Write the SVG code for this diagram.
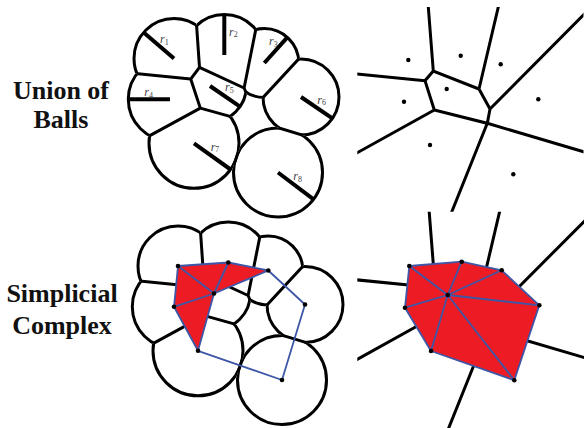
<svg xmlns="http://www.w3.org/2000/svg" xmlns:xlink="http://www.w3.org/1999/xlink" width="584" height="428" viewBox="0 0 584 428">
<style>
.ball{fill:none;stroke:#000;stroke-width:3}
.edge{fill:none;stroke:#000;stroke-width:3;stroke-linejoin:miter}
.rad{stroke:#000;stroke-width:4;stroke-linecap:butt}
.dot{fill:#000}
.tri{fill:#ED1C24;stroke:none}
.cx{fill:none;stroke:#3E56A6;stroke-width:1.8;stroke-linejoin:round}
</style>
<defs>
<clipPath id="cell1" clipPathUnits="userSpaceOnUse"><polygon points="178.7,-231.9 199.5,67.4 190.7,79 -107.9,49.7"/></clipPath>
<clipPath id="cell2" clipPathUnits="userSpaceOnUse"><polygon points="178.7,-231.9 302.9,-206.2 244.1,88 199.5,67.4"/></clipPath>
<clipPath id="cell3" clipPathUnits="userSpaceOnUse"><polygon points="244.1,88 302.9,-206.2 456.7,-111.6 252.8,108.5"/></clipPath>
<clipPath id="cell4" clipPathUnits="userSpaceOnUse"><polygon points="190.7,79 -107.9,49.7 -63.1,251.8 200.3,108.1"/></clipPath>
<clipPath id="cell5" clipPathUnits="userSpaceOnUse"><polygon points="199.5,67.4 190.7,79 200.3,108.1 248.9,121.6 251.5,119.6 252.8,108.5 244.1,88"/></clipPath>
<clipPath id="cell6" clipPathUnits="userSpaceOnUse"><polygon points="252.8,108.5 456.7,-111.6 538.5,207 251.5,119.6"/></clipPath>
<clipPath id="cell7" clipPathUnits="userSpaceOnUse"><polygon points="200.3,108.1 -63.1,251.8 150.4,405 248.9,121.6"/></clipPath>
<clipPath id="cell8" clipPathUnits="userSpaceOnUse"><polygon points="248.9,121.6 150.4,405 538.5,207 251.5,119.6"/></clipPath>
<clipPath id="union" clipPathUnits="userSpaceOnUse">
<circle cx="174" cy="58.5" r="40"/><circle cx="224.3" cy="55" r="40.5"/><circle cx="264.3" cy="63" r="34.5"/><circle cx="170" cy="99.3" r="41.7"/><circle cx="210" cy="86" r="36.4"/><circle cx="301" cy="97" r="38"/><circle cx="194" cy="143.3" r="45"/><circle cx="278" cy="172.5" r="44.5"/>
</clipPath>
<clipPath id="frameTop" clipPathUnits="userSpaceOnUse"><rect x="357.3" y="7" width="226.2" height="204.7"/></clipPath>
<clipPath id="frameBot" clipPathUnits="userSpaceOnUse"><rect x="356.3" y="5.7" width="228" height="220"/></clipPath>
<g id="balls">
<circle class="ball" cx="174" cy="58.5" r="40" clip-path="url(#cell1)"/>
<circle class="ball" cx="224.3" cy="55" r="40.5" clip-path="url(#cell2)"/>
<circle class="ball" cx="264.3" cy="63" r="34.5" clip-path="url(#cell3)"/>
<circle class="ball" cx="170" cy="99.3" r="41.7" clip-path="url(#cell4)"/>
<circle class="ball" cx="210" cy="86" r="36.4" clip-path="url(#cell5)"/>
<circle class="ball" cx="301" cy="97" r="38" clip-path="url(#cell6)"/>
<circle class="ball" cx="194" cy="143.3" r="45" clip-path="url(#cell7)"/>
<circle class="ball" cx="278" cy="172.5" r="44.5" clip-path="url(#cell8)"/>
<path class="edge" clip-path="url(#union)" d="M199.5,67.4 L190.7,79 L200.3,108.1 L248.9,121.6 L251.5,119.6 L252.8,108.5 L244.1,88 Z M199.5,67.4 L178.7,-231.9 M190.7,79 L-107.9,49.7 M200.3,108.1 L-63.1,251.8 M244.1,88 L302.9,-206.2 M252.8,108.5 L456.7,-111.6 M251.5,119.6 L538.5,207 M248.9,121.6 L150.4,405"/>
</g>
<g id="voronoi">
<path class="edge" d="M433.3,71 L425,80.7 L434.3,110 L487.3,123.3 L490,109 L479,89 Z M433.3,71 L418.3,-121 M425,80.7 L222,60.6 M434.3,110 L203.3,238.1 M479,89 L536.9,-157 M490,109 L770.5,-173 M487.3,123.3 L775.9,208.5 M487.3,123.3 L344.9,478.1"/>
</g>
</defs>

<g id="labels">
<text x="61" y="99" font-family="Liberation Serif" font-weight="bold" font-size="26" fill="#111" text-anchor="middle">Union of</text>
<text x="61" y="128" font-family="Liberation Serif" font-weight="bold" font-size="26" fill="#111" text-anchor="middle">Balls</text>
<text x="62" y="302" font-family="Liberation Serif" font-weight="bold" font-size="26" fill="#111" text-anchor="middle">Simplicial</text>
<text x="62" y="334" font-family="Liberation Serif" font-weight="bold" font-size="26" fill="#111" text-anchor="middle">Complex</text>
</g>

<g id="union-of-balls">
<use xlink:href="#balls"/>
<g id="radii">
<line class="rad" x1="174" y1="58.5" x2="143.7" y2="32.4"/>
<line class="rad" x1="224.3" y1="55" x2="224.3" y2="14.5"/>
<line class="rad" x1="264.3" y1="63" x2="287.3" y2="37.3"/>
<line class="rad" x1="170" y1="99.3" x2="128.3" y2="99.3"/>
<line class="rad" x1="210" y1="86" x2="240" y2="106.7"/>
<line class="rad" x1="301" y1="97" x2="332.4" y2="118.4"/>
<line class="rad" x1="194" y1="143.3" x2="230.6" y2="169.5"/>
<line class="rad" x1="278" y1="172.5" x2="313.6" y2="199.3"/>
</g>
<g id="radius-labels">
<text x="160" y="43" font-family="Liberation Serif" font-style="italic" font-size="12" fill="#444">r<tspan font-size="8" font-style="normal" dy="1.5">1</tspan></text>
<text x="229" y="35.7" font-family="Liberation Serif" font-style="italic" font-size="12" fill="#444">r<tspan font-size="8" font-style="normal" dy="1.5">2</tspan></text>
<text x="269" y="45.3" font-family="Liberation Serif" font-style="italic" font-size="12" fill="#444">r<tspan font-size="8" font-style="normal" dy="1.5">3</tspan></text>
<text x="144.3" y="96" font-family="Liberation Serif" font-style="italic" font-size="12" fill="#444">r<tspan font-size="8" font-style="normal" dy="1.5">4</tspan></text>
<text x="225" y="91" font-family="Liberation Serif" font-style="italic" font-size="12" fill="#444">r<tspan font-size="8" font-style="normal" dy="1.5">5</tspan></text>
<text x="317.3" y="103.5" font-family="Liberation Serif" font-style="italic" font-size="12" fill="#444">r<tspan font-size="8" font-style="normal" dy="1.5">6</tspan></text>
<text x="210.7" y="150.5" font-family="Liberation Serif" font-style="italic" font-size="12" fill="#444">r<tspan font-size="8" font-style="normal" dy="1.5">7</tspan></text>
<text x="293.3" y="180" font-family="Liberation Serif" font-style="italic" font-size="12" fill="#444">r<tspan font-size="8" font-style="normal" dy="1.5">8</tspan></text>
</g>
</g>

<g id="power-diagram">
<use xlink:href="#voronoi" clip-path="url(#frameTop)"/>
<g class="dot">
<circle cx="408.3" cy="60" r="2.2"/><circle cx="460.7" cy="55.7" r="2.2"/><circle cx="500.7" cy="64.3" r="2.2"/><circle cx="446.7" cy="89" r="2.2"/><circle cx="404" cy="101.7" r="2.2"/><circle cx="538.3" cy="99.3" r="2.2"/><circle cx="430" cy="145" r="2.2"/><circle cx="513.3" cy="174.3" r="2.2"/>
</g>
</g>

<g id="alpha-complex" transform="translate(4,207.5)">
<use xlink:href="#balls"/>
<g class="tri">
<polygon points="174,58.5 224.3,55 210,86"/>
<polygon points="224.3,55 264.3,63 210,86"/>
<polygon points="174,58.5 170,99.3 210,86"/>
<polygon points="170,99.3 210,86 194,143.3"/>
</g>
<path class="cx" d="M174,58.5 L224.3,55 L264.3,63 L210,86 Z M224.3,55 L210,86 M174,58.5 L170,99.3 L194,143.3 L210,86 L170,99.3 M264.3,63 L301,97 L278,172.5 L194,143.3"/>
<g class="dot">
<circle cx="174" cy="58.5" r="2.3"/><circle cx="224.3" cy="55" r="2.3"/><circle cx="264.3" cy="63" r="2.3"/><circle cx="170" cy="99.3" r="2.3"/><circle cx="210" cy="86" r="2.3"/><circle cx="301" cy="97" r="2.3"/><circle cx="194" cy="143.3" r="2.3"/><circle cx="278" cy="172.5" r="2.3"/>
</g>
</g>

<g id="delaunay" transform="translate(1,206)">
<use xlink:href="#voronoi" clip-path="url(#frameBot)"/>
<polygon class="tri" points="408.3,60 460.7,55.7 500.7,64.3 538.3,99.3 513.3,174.3 430,145 404,101.7"/>
<path class="cx" d="M408.3,60 L460.7,55.7 L500.7,64.3 L538.3,99.3 L513.3,174.3 L430,145 L404,101.7 Z M446.7,89 L408.3,60 M446.7,89 L460.7,55.7 M446.7,89 L500.7,64.3 M446.7,89 L538.3,99.3 M446.7,89 L513.3,174.3 M446.7,89 L430,145 M446.7,89 L404,101.7"/>
<g class="dot">
<circle cx="408.3" cy="60" r="2.3"/><circle cx="460.7" cy="55.7" r="2.3"/><circle cx="500.7" cy="64.3" r="2.3"/><circle cx="446.7" cy="89" r="2.3"/><circle cx="404" cy="101.7" r="2.3"/><circle cx="538.3" cy="99.3" r="2.3"/><circle cx="430" cy="145" r="2.3"/><circle cx="513.3" cy="174.3" r="2.3"/>
</g>
</g>
</svg>
